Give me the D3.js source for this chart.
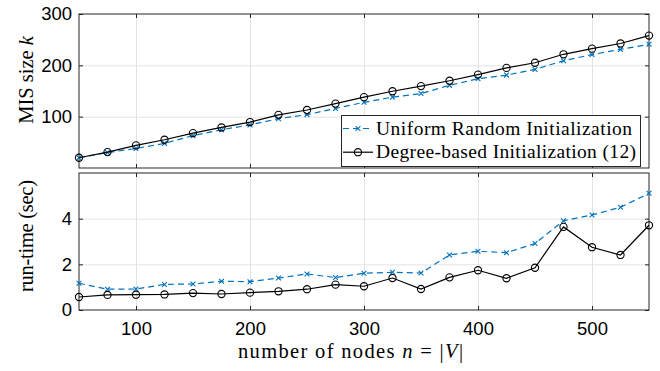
<!DOCTYPE html>
<html>
<head>
<meta charset="utf-8">
<script src="https://cdn.jsdelivr.net/npm/d3@7"></script>
<style>
  body { margin: 0; background: #fff; }
  svg { display: block; }
</style>
</head>
<body>
<div id="chart"></div>
<script>
// number of nodes n = |V|
const nodes = [50, 75, 100, 125, 150, 175, 200, 225, 250, 275, 300, 325, 350, 375, 400, 425, 450, 475, 500, 525, 550];

// MIS size k
const misUniform = [20, 30, 38, 48, 63, 74.5, 84, 96, 104, 116, 128, 138, 145, 161, 174, 181, 192, 209, 221, 231, 241];
const misDegree  = [20, 31, 44, 55, 68, 79, 89.5, 103.5, 113, 125.5, 138, 149.5, 159.5, 170, 182, 195, 205, 221.5, 232.5, 242.5, 258];

// run-time (sec)
const timeUniform = [1.17, 0.91, 0.92, 1.12, 1.14, 1.26, 1.24, 1.40, 1.58, 1.42, 1.61, 1.65, 1.62, 2.41, 2.57, 2.51, 2.91, 3.91, 4.16, 4.50, 5.11];
const timeDegree  = [0.57, 0.66, 0.67, 0.68, 0.74, 0.70, 0.76, 0.82, 0.91, 1.11, 1.04, 1.40, 0.92, 1.43, 1.74, 1.39, 1.85, 3.64, 2.75, 2.41, 3.71];

const xTicks = [100, 200, 300, 400, 500];
const misTicks = [100, 200, 300];
const timeTicks = [0, 2, 4];
const legendLabels = ["Uniform Random Initialization", "Degree-based Initialization (12)"];

const width = 660, height = 371;
const left = 79, right = 649;
const top1 = { top: 14, bottom: 168 };
const top2 = { top: 173, bottom: 310 };

const blue = "#0072BD";
const axisColor = "#262626";
const gridColor = "#e3e3e3";
const sans = "'Liberation Sans', Arial, sans-serif";
const serif = "'Liberation Serif', 'Times New Roman', serif";

const svg = d3.select("#chart").append("svg")
    .attr("width", width)
    .attr("height", height);

const x = d3.scaleLinear().domain([50, 550]).range([left, right]);
const yMis = d3.scaleLinear().domain([0, 300]).range([top1.bottom, top1.top]);
const yTime = d3.scaleLinear().domain([0, 6]).range([top2.bottom, top2.top]);

function drawPanel(y, panel, yTicks, showX) {
    const g = svg.append("g");
    const w = right - left, h = panel.bottom - panel.top;

    // grid
    g.append("g")
        .attr("transform", `translate(0,${panel.bottom})`)
        .call(d3.axisBottom(x).tickValues(xTicks).tickSize(-h).tickFormat(""))
        .call(a => a.select(".domain").remove())
        .selectAll("line").attr("stroke", gridColor);
    g.append("g")
        .attr("transform", `translate(${left},0)`)
        .call(d3.axisLeft(y).tickValues(yTicks.filter(t => t > y.domain()[0] && t < y.domain()[1])).tickSize(-w).tickFormat(""))
        .call(a => a.select(".domain").remove())
        .selectAll("line").attr("stroke", gridColor);

    // axes, ticks pointing inward
    g.append("g")
        .attr("transform", `translate(0,${panel.bottom})`)
        .call(d3.axisBottom(x).tickValues(xTicks).tickSizeInner(-4).tickSizeOuter(0).tickPadding(12)
            .tickFormat(showX ? d3.format("d") : ""));
    g.append("g")
        .attr("transform", `translate(0,${panel.top})`)
        .call(d3.axisTop(x).tickValues(xTicks).tickSizeInner(-4).tickSizeOuter(0).tickFormat(""));
    g.append("g")
        .attr("transform", `translate(${left},0)`)
        .call(d3.axisLeft(y).tickValues(yTicks).tickSizeInner(-4).tickSizeOuter(0).tickPadding(7)
            .tickFormat(d3.format("d")));
    g.append("g")
        .attr("transform", `translate(${right},0)`)
        .call(d3.axisRight(y).tickValues(yTicks).tickSizeInner(-4).tickSizeOuter(0).tickFormat(""));

    g.selectAll(".tick line").filter(function () { return this.getAttribute("stroke") !== gridColor; })
        .attr("stroke", axisColor);
    g.selectAll(".domain").remove();
    g.selectAll("text")
        .attr("font-family", sans)
        .attr("font-size", 18.5)
        .attr("fill", "#000");

    // box
    g.append("rect")
        .attr("x", left).attr("y", panel.top)
        .attr("width", w).attr("height", h)
        .attr("fill", "none")
        .attr("stroke", axisColor)
        .attr("stroke-width", 1);
    return g;
}

function drawSeries(g, y, values, style) {
    const pts = nodes.map((n, i) => [x(n), y(values[i])]);
    g.append("path")
        .datum(pts)
        .attr("fill", "none")
        .attr("stroke", style.color)
        .attr("stroke-width", 1.2)
        .attr("stroke-dasharray", style.dash || null)
        .attr("d", d3.line());
    drawMarkers(g, pts, style);
}

function drawMarkers(g, pts, style) {
    if (style.marker === "x") {
        const s = 2.4;
        g.append("g").selectAll("path").data(pts).join("path")
            .attr("d", d => `M${d[0] - s},${d[1] - s}L${d[0] + s},${d[1] + s}M${d[0] - s},${d[1] + s}L${d[0] + s},${d[1] - s}`)
            .attr("stroke", style.color)
            .attr("stroke-width", 1.1)
            .attr("fill", "none");
    } else {
        g.append("g").selectAll("circle").data(pts).join("circle")
            .attr("cx", d => d[0]).attr("cy", d => d[1])
            .attr("r", 3.6)
            .attr("fill", "none")
            .attr("stroke", style.color)
            .attr("stroke-width", 1.1);
    }
}

const styles = [
    { color: blue, dash: "6,4", marker: "x" },
    { color: "#000", marker: "o" }
];

const g1 = drawPanel(yMis, top1, misTicks, false);
drawSeries(g1, yMis, misUniform, styles[0]);
drawSeries(g1, yMis, misDegree, styles[1]);

const g2 = drawPanel(yTime, top2, timeTicks, true);
drawSeries(g2, yTime, timeUniform, styles[0]);
drawSeries(g2, yTime, timeDegree, styles[1]);

// legend
const legend = svg.append("g");
legend.append("rect")
    .attr("x", 341.5).attr("y", 115.5)
    .attr("width", 299).attr("height", 51)
    .attr("fill", "#fff")
    .attr("stroke", axisColor)
    .attr("stroke-width", 1);
const legendWidths = [256, 260];
legendLabels.forEach((label, i) => {
    const cy = 128.5 + i * 23.7;
    const st = styles[i];
    legend.append("line")
        .attr("x1", 343).attr("x2", 373)
        .attr("y1", cy).attr("y2", cy)
        .attr("stroke", st.color)
        .attr("stroke-width", 1.2)
        .attr("stroke-dasharray", st.dash || null);
    drawMarkers(legend, [[358, cy]], st);
    legend.append("text")
        .attr("x", 376).attr("y", cy + 6)
        .attr("font-family", serif)
        .attr("font-size", 19.5)
        .attr("textLength", legendWidths[i])
        .attr("lengthAdjust", "spacing")
        .text(label);
});

// axis titles
const xTitle = svg.append("text")
    .attr("x", 238).attr("y", 358)
    .attr("font-family", serif)
    .attr("font-size", 20.5)
    .attr("textLength", 225)
    .attr("lengthAdjust", "spacing");
xTitle.append("tspan").text("number of nodes ");
xTitle.append("tspan").attr("font-style", "italic").text("n");
xTitle.append("tspan").text(" = |");
xTitle.append("tspan").attr("font-style", "italic").text("V");
xTitle.append("tspan").text("|");

const yTitle1 = svg.append("text")
    .attr("transform", "translate(33,80) rotate(-90)")
    .attr("text-anchor", "middle")
    .attr("font-family", serif)
    .attr("font-size", 20.5);
yTitle1.append("tspan").text("MIS size ");
yTitle1.append("tspan").attr("font-style", "italic").text("k");

svg.append("text")
    .attr("transform", "translate(33,236) rotate(-90)")
    .attr("text-anchor", "middle")
    .attr("font-family", serif)
    .attr("font-size", 20.5)
    .attr("textLength", 112)
    .attr("lengthAdjust", "spacing")
    .text("run-time (sec)");
</script>
</body>
</html>
